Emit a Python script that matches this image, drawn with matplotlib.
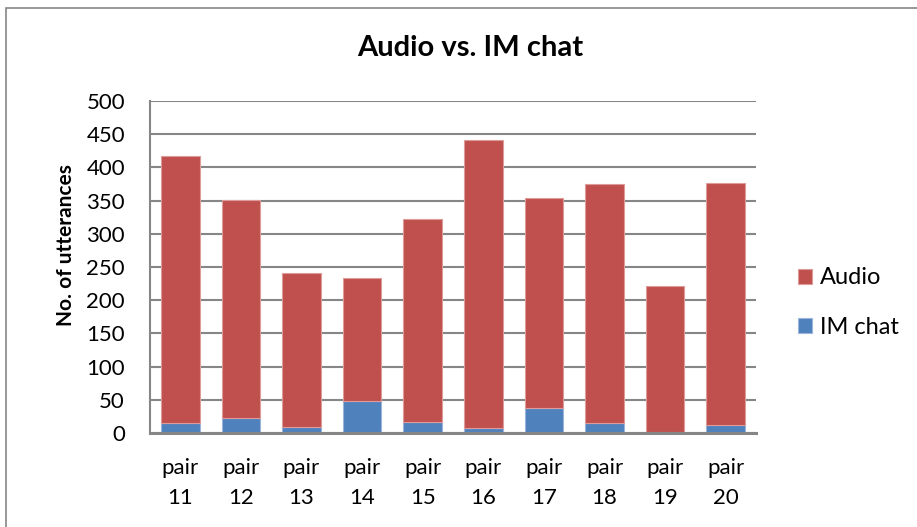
import numpy as np
from matplotlib import pyplot as plt
from matplotlib.patches import Rectangle

plt.rcParams["font.family"] = ["Lato", "DejaVu Sans"]

# Data ─────────────────────────────────────────────────────────────────────────
pairs = ["pair\n11", "pair\n12", "pair\n13", "pair\n14", "pair\n15",
         "pair\n16", "pair\n17", "pair\n18", "pair\n19", "pair\n20"]
im_chat = [15, 22, 9, 48, 17, 7, 37, 15, 1, 12]
audio = [402, 329, 232, 186, 305, 435, 317, 360, 221, 364]

AUDIO_COL = "#C0504D"
IM_COL = "#4F81BD"
GRID_COL = "#868686"

# Plot ─────────────────────────────────────────────────────────────────────────
W, H = 917, 527
fig = plt.figure(figsize=(W / 100, H / 100), dpi=100)
ax = fig.add_axes([150 / W, 1 - 433 / H, 606 / W, 332 / H])

x = np.arange(len(pairs))
ax.bar(x, im_chat, width=0.64, color=IM_COL, edgecolor="#9DB5DA",
       linewidth=0.8, label="IM chat", zorder=3)
ax.bar(x, audio, bottom=im_chat, width=0.64, color=AUDIO_COL,
       edgecolor="#DD9B99", linewidth=0.8, label="Audio", zorder=3)

ax.set_xlim(-0.5, len(pairs) - 0.5)
ax.set_ylim(0, 500)
ax.set_yticks(np.arange(0, 501, 50))
ax.set_xticks(x)
ax.set_xticklabels(pairs, fontsize=16, linespacing=1.6)
ax.tick_params(axis="y", labelsize=16, length=0, pad=18)
ax.tick_params(axis="x", length=0, pad=18)

ax.yaxis.grid(True, color=GRID_COL, linewidth=1.5, zorder=0)
ax.set_axisbelow(True)
for side in ["top", "right"]:
    ax.spines[side].set_visible(False)
ax.spines["left"].set_color(GRID_COL)
ax.spines["left"].set_linewidth(1.5)
ax.spines["bottom"].set_color(GRID_COL)
ax.spines["bottom"].set_linewidth(2.2)
ax.spines["bottom"].set_zorder(4)

ax.set_ylabel("No. of utterances", fontsize=15, fontweight="bold")
ax.yaxis.set_label_coords((76 - 150) / 606, (433 - 245) / 332)
fig.text(470 / W, 1 - 48 / H, "Audio vs. IM chat", fontsize=21,
         fontweight="bold", ha="center", va="center")

handles, labels = ax.get_legend_handles_labels()
fig.legend(handles[::-1], labels[::-1], loc="center left",
           bbox_to_anchor=(777 / W, 1 - 302.5 / H), frameon=False,
           fontsize=17, handlelength=0.6, handleheight=0.6,
           handletextpad=0.3, labelspacing=1.2)

# chart border
fig.patches.append(Rectangle((6 / W, -0.1), 1.2, 1.1 - 8 / H,
                             transform=fig.transFigure, fill=False,
                             edgecolor=GRID_COL, linewidth=1.2))

fig.savefig("out.png", dpi=100)
